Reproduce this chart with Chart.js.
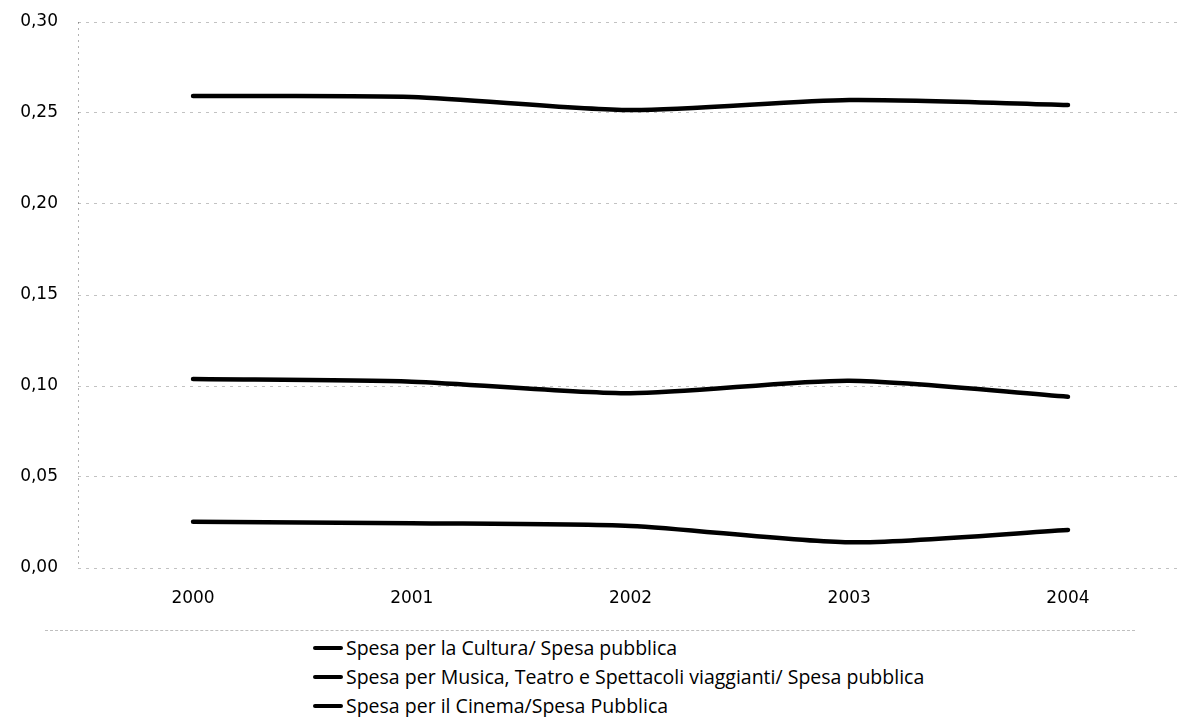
<!DOCTYPE html>
<html><head><meta charset="utf-8">
<script src="https://cdn.jsdelivr.net/npm/chart.js@4/dist/chart.umd.min.js"></script>
<style>
html,body{margin:0;padding:0;background:#fff;width:1178px;height:717px;overflow:hidden;}
#wrap{position:absolute;left:0;top:0;width:1178px;height:620px;}
#legend{position:absolute;left:313px;top:633px;font-family:"Open Sans",sans-serif;font-size:19.5px;color:#000;}
.item{display:flex;align-items:center;height:29px;line-height:22px;white-space:nowrap;}
.mk{width:30px;height:4px;background:#000;margin-right:3px;border-radius:2px;}
#sep{position:absolute;left:45px;top:630px;width:1090px;border-top:1px dashed rgba(0,0,0,0.25);}
</style></head>
<body>
<div id="wrap"><canvas id="c" width="1178" height="620"></canvas></div>
<div id="sep"></div>
<div id="legend"></div>
<script>
const years = [2000, 2001, 2002, 2003, 2004];
const seriesNames = [
  "Spesa per la Cultura/ Spesa pubblica",
  "Spesa per Musica, Teatro e Spettacoli viaggianti/ Spesa pubblica",
  "Spesa per il Cinema/Spesa Pubblica"
];
const cultura = [0.2593, 0.2588, 0.2516, 0.2571, 0.2544];
const musica  = [0.1038, 0.1024, 0.0960, 0.1029, 0.0941];
const cinema  = [0.0254, 0.0246, 0.0231, 0.0141, 0.0209];
const yTicks = [0, 0.05, 0.10, 0.15, 0.20, 0.25, 0.30];

const seriesValues = [cultura, musica, cinema];

const datasets = seriesValues.map((vals, i) => ({
  label: seriesNames[i],
  data: vals.map((v, j) => ({x: years[j], y: v})),
  borderColor: '#000',
  backgroundColor: '#000',
  borderWidth: 4.5,
  pointRadius: 0,
  tension: 0.25,
  borderCapStyle: 'round',
  borderJoinStyle: 'round',
  fill: false
}));

const axisLine = {
  id: 'axisLine',
  beforeDatasetsDraw(chart) {
    const {ctx, chartArea} = chart;
    ctx.save();
    ctx.strokeStyle = 'rgba(0,0,0,0.3)';
    ctx.lineWidth = 1;
    ctx.setLineDash([2, 4]);
    ctx.beginPath();
    ctx.moveTo(chartArea.left + 0.5, chartArea.top);
    ctx.lineTo(chartArea.left + 0.5, chartArea.bottom);
    ctx.stroke();
    ctx.restore();
  }
};

new Chart(document.getElementById('c'), {
  type: 'line',
  data: {datasets},
  options: {
    responsive: false,
    animation: false,
    layout: {padding: {top: 22, left: 0, right: 0, bottom: 0}},
    plugins: {legend: {display: false}, tooltip: {enabled: false}},
    scales: {
      x: {
        type: 'linear',
        min: 1999.474,
        max: 2004.503,
        afterBuildTicks(axis) { axis.ticks = years.map(v => ({value: v})); },
        afterFit(scale) { scale.height = 52; scale.paddingTop = 0; scale.paddingBottom = 0; },
        grid: {display: false, drawTicks: false},
        border: {display: false},
        ticks: {
          padding: 20,
          color: '#000',
          font: {family: 'DejaVu Sans', size: 17},
          maxRotation: 0,
          callback: v => String(v)
        }
      },
      y: {
        min: 0,
        max: 0.30,
        afterBuildTicks(axis) { axis.ticks = yTicks.map(v => ({value: v})); },
        afterFit(scale) { scale.width = 78; scale.paddingTop = 0; scale.paddingBottom = 0; },
        grid: {color: 'rgba(0,0,0,0.24)', lineWidth: 1, drawTicks: false},
        border: {display: false, dash: [3, 5]},
        ticks: {
          padding: 20,
          color: '#000',
          font: {family: 'DejaVu Sans', size: 17},
          callback: v => v.toFixed(2).replace('.', ',')
        }
      }
    }
  },
  plugins: [axisLine]
});

const leg = document.getElementById('legend');
seriesNames.forEach(n => {
  const d = document.createElement('div');
  d.className = 'item';
  const m = document.createElement('span'); m.className = 'mk';
  const t = document.createElement('span'); t.textContent = n;
  d.appendChild(m); d.appendChild(t);
  leg.appendChild(d);
});
</script>
</body></html>
